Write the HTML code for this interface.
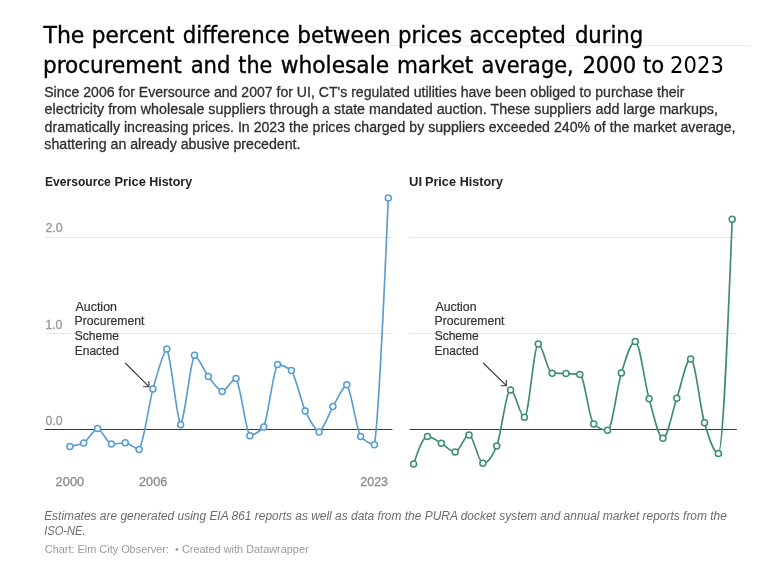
<!DOCTYPE html><html><head><meta charset="utf-8"><title>Chart</title>
<style>html,body{margin:0;padding:0;background:#fff}svg{display:block}text{font-family:"Liberation Sans", sans-serif}</style></head><body>
<svg width="771" height="576" viewBox="0 0 771 576">
<rect width="771" height="576" fill="#fff"/>
<line x1="296" x2="751" y1="45.5" y2="45.5" stroke="#ebebeb" stroke-width="1"/>
<text font-size="23" fill="#000" style='font-family:"DejaVu Sans Condensed", "DejaVu Sans", sans-serif'>
<tspan x="43.45" y="42.80" textLength="40.98" lengthAdjust="spacingAndGlyphs" stroke="#000" stroke-width="0.35">The</tspan>
<tspan x="91.85" y="42.80" textLength="82.69" lengthAdjust="spacingAndGlyphs" stroke="#000" stroke-width="0.35">percent</tspan>
<tspan x="182.71" y="42.80" textLength="106.79" lengthAdjust="spacingAndGlyphs" stroke="#000" stroke-width="0.35">difference</tspan>
<tspan x="297.34" y="42.80" textLength="93.34" lengthAdjust="spacingAndGlyphs" stroke="#000" stroke-width="0.35">between</tspan>
<tspan x="398.06" y="42.80" textLength="63.93" lengthAdjust="spacingAndGlyphs" stroke="#000" stroke-width="0.35">prices</tspan>
<tspan x="469.50" y="42.80" textLength="96.33" lengthAdjust="spacingAndGlyphs" stroke="#000" stroke-width="0.35">accepted</tspan>
<tspan x="574.92" y="42.80" textLength="68.31" lengthAdjust="spacingAndGlyphs" stroke="#000" stroke-width="0.35">during</tspan>
<tspan x="42.94" y="73.00" textLength="138.87" lengthAdjust="spacingAndGlyphs" stroke="#000" stroke-width="0.35">procurement</tspan>
<tspan x="190.67" y="73.00" textLength="39.80" lengthAdjust="spacingAndGlyphs" stroke="#000" stroke-width="0.35">and</tspan>
<tspan x="238.38" y="73.00" textLength="34.00" lengthAdjust="spacingAndGlyphs" stroke="#000" stroke-width="0.35">the</tspan>
<tspan x="280.74" y="73.00" textLength="108.37" lengthAdjust="spacingAndGlyphs" stroke="#000" stroke-width="0.35">wholesale</tspan>
<tspan x="396.96" y="73.00" textLength="76.12" lengthAdjust="spacingAndGlyphs" stroke="#000" stroke-width="0.35">market</tspan>
<tspan x="481.56" y="73.00" textLength="92.05" lengthAdjust="spacingAndGlyphs" stroke="#000" stroke-width="0.35">average,</tspan>
<tspan x="582.41" y="73.00" textLength="53.80" lengthAdjust="spacingAndGlyphs" stroke="#000" stroke-width="0.35">2000</tspan>
<tspan x="643.04" y="73.00" textLength="21.18" lengthAdjust="spacingAndGlyphs" stroke="#000" stroke-width="0.35">to</tspan>
<tspan x="670.14" y="73.00" textLength="53.78" lengthAdjust="spacingAndGlyphs" >2023</tspan>
</text>
<defs><filter id="soft" x="-5%" y="-5%" width="110%" height="110%"><feGaussianBlur stdDeviation="0.4"/></filter></defs>
<g filter="url(#soft)">
<text font-size="14" fill="#2e2e2e">
<tspan x="44.18" y="96.80" textLength="640.28" lengthAdjust="spacingAndGlyphs" stroke="#2e2e2e" stroke-width="0.28">Since 2006 for Eversource and 2007 for UI, CT&#39;s regulated utilities have been obliged to purchase their</tspan>
<tspan x="44.54" y="114.20" textLength="673.46" lengthAdjust="spacingAndGlyphs" stroke="#2e2e2e" stroke-width="0.28">electricity from wholesale suppliers through a state mandated auction. These suppliers add large markups,</tspan>
<tspan x="44.58" y="131.70" textLength="690.91" lengthAdjust="spacingAndGlyphs" stroke="#2e2e2e" stroke-width="0.28">dramatically increasing prices. In 2023 the prices charged by suppliers exceeded 240% of the market average,</tspan>
<tspan x="44.30" y="149.20" textLength="256.20" lengthAdjust="spacingAndGlyphs" stroke="#2e2e2e" stroke-width="0.28">shattering an already abusive precedent.</tspan>
</text>
<text font-size="13" fill="#222" font-weight="bold">
<tspan x="44.98" y="185.60" textLength="65.87" lengthAdjust="spacingAndGlyphs" >Eversource</tspan>
<tspan x="114.45" y="185.60" textLength="31.41" lengthAdjust="spacingAndGlyphs" >Price</tspan>
<tspan x="149.21" y="185.60" textLength="42.94" lengthAdjust="spacingAndGlyphs" >History</tspan>
</text>
<text font-size="13" fill="#222" font-weight="bold">
<tspan x="409.09" y="185.60" textLength="13.04" lengthAdjust="spacingAndGlyphs" >UI</tspan>
<tspan x="424.96" y="185.60" textLength="31.02" lengthAdjust="spacingAndGlyphs" >Price</tspan>
<tspan x="459.71" y="185.60" textLength="43.21" lengthAdjust="spacingAndGlyphs" >History</tspan>
</text>
<line x1="44.7" x2="392.4" y1="237.5" y2="237.5" stroke="#e7e7e7" stroke-width="1"/>
<line x1="44.7" x2="392.4" y1="333.5" y2="333.5" stroke="#e7e7e7" stroke-width="1"/>
<line x1="44.7" x2="392.4" y1="429.5" y2="429.5" stroke="#383838" stroke-width="1.15"/>
<line x1="409.6" x2="736.9" y1="237.5" y2="237.5" stroke="#e7e7e7" stroke-width="1"/>
<line x1="409.6" x2="736.9" y1="333.5" y2="333.5" stroke="#e7e7e7" stroke-width="1"/>
<line x1="409.6" x2="736.9" y1="429.5" y2="429.5" stroke="#383838" stroke-width="1.15"/>
<text x="45.47" y="232.20" font-size="12" fill="#999" textLength="17.23" lengthAdjust="spacingAndGlyphs" stroke="#999" stroke-width="0.3">2.0</text>
<text x="45.23" y="329.00" font-size="12" fill="#999" textLength="17.28" lengthAdjust="spacingAndGlyphs" stroke="#999" stroke-width="0.3">1.0</text>
<text x="45.58" y="424.90" font-size="12" fill="#999" textLength="17.08" lengthAdjust="spacingAndGlyphs" stroke="#999" stroke-width="0.3">0.0</text>
<text font-size="12" fill="#333">
<tspan x="75.57" y="310.60" textLength="41.36" lengthAdjust="spacingAndGlyphs" stroke="#333" stroke-width="0.2">Auction</tspan>
<tspan x="74.62" y="325.37" textLength="69.83" lengthAdjust="spacingAndGlyphs" stroke="#333" stroke-width="0.2">Procurement</tspan>
<tspan x="74.81" y="340.14" textLength="44.14" lengthAdjust="spacingAndGlyphs" stroke="#333" stroke-width="0.2">Scheme</tspan>
<tspan x="74.65" y="354.91" textLength="44.23" lengthAdjust="spacingAndGlyphs" stroke="#333" stroke-width="0.2">Enacted</tspan>
</text>
<text font-size="12" fill="#333">
<tspan x="435.42" y="310.60" textLength="41.21" lengthAdjust="spacingAndGlyphs" stroke="#333" stroke-width="0.2">Auction</tspan>
<tspan x="434.54" y="325.37" textLength="69.89" lengthAdjust="spacingAndGlyphs" stroke="#333" stroke-width="0.2">Procurement</tspan>
<tspan x="434.67" y="340.14" textLength="44.10" lengthAdjust="spacingAndGlyphs" stroke="#333" stroke-width="0.2">Scheme</tspan>
<tspan x="434.58" y="354.91" textLength="44.08" lengthAdjust="spacingAndGlyphs" stroke="#333" stroke-width="0.2">Enacted</tspan>
</text>
<path d="M125.2,363.0L148.9,386.7M148.9,380.9L148.9,386.7L143.1,386.7" fill="none" stroke="#3a3a3a" stroke-width="1.1"/>
<path d="M483.2,363.0L506.4,385.7M506.3,379.9L506.4,385.7L500.6,385.8" fill="none" stroke="#3a3a3a" stroke-width="1.1"/>
<path d="M69.90,446.40C74.51,445.63,79.13,444.87,83.74,443.00C88.36,439.82,92.97,430.10,97.59,428.40C102.20,430.23,106.81,442.27,111.43,444.10C116.04,443.95,120.66,442.95,125.27,442.80C129.89,443.58,134.50,448.72,139.12,449.50C143.73,442.43,148.34,406.86,152.96,388.90C157.57,373.36,162.19,353.65,166.80,349.00C171.42,357.84,176.03,415.96,180.64,424.80C185.26,416.69,189.87,363.41,194.49,355.30C199.10,357.76,203.72,370.02,208.33,376.40C212.94,382.08,217.56,389.74,222.17,391.50C226.79,389.98,231.40,380.02,236.02,378.50C240.63,385.17,245.24,429.03,249.86,435.70C254.47,434.70,259.09,431.83,263.70,427.10C268.32,416.06,272.93,371.71,277.55,364.40C282.16,365.10,286.77,367.10,291.39,370.40C296.00,377.74,300.62,399.58,305.23,411.00C309.85,420.15,314.46,429.64,319.07,432.10C323.69,429.12,328.30,414.71,332.92,406.60C337.53,398.91,342.15,387.25,346.76,384.70C351.37,390.74,355.99,426.86,360.60,436.50C365.22,441.06,369.83,443.83,374.45,444.80C379.06,416.02,383.67,307.06,388.29,198.10" fill="none" stroke="#5a9cd0" stroke-width="1.65" stroke-linejoin="round"/>
<circle cx="69.90" cy="446.40" r="3.0" fill="#f2fafe" stroke="#5a9cd0" stroke-width="1.5"/>
<circle cx="83.74" cy="443.00" r="3.0" fill="#f2fafe" stroke="#5a9cd0" stroke-width="1.5"/>
<circle cx="97.59" cy="428.40" r="3.0" fill="#f2fafe" stroke="#5a9cd0" stroke-width="1.5"/>
<circle cx="111.43" cy="444.10" r="3.0" fill="#f2fafe" stroke="#5a9cd0" stroke-width="1.5"/>
<circle cx="125.27" cy="442.80" r="3.0" fill="#f2fafe" stroke="#5a9cd0" stroke-width="1.5"/>
<circle cx="139.12" cy="449.50" r="3.0" fill="#f2fafe" stroke="#5a9cd0" stroke-width="1.5"/>
<circle cx="152.96" cy="388.90" r="3.0" fill="#f2fafe" stroke="#5a9cd0" stroke-width="1.5"/>
<circle cx="166.80" cy="349.00" r="3.0" fill="#f2fafe" stroke="#5a9cd0" stroke-width="1.5"/>
<circle cx="180.64" cy="424.80" r="3.0" fill="#f2fafe" stroke="#5a9cd0" stroke-width="1.5"/>
<circle cx="194.49" cy="355.30" r="3.0" fill="#f2fafe" stroke="#5a9cd0" stroke-width="1.5"/>
<circle cx="208.33" cy="376.40" r="3.0" fill="#f2fafe" stroke="#5a9cd0" stroke-width="1.5"/>
<circle cx="222.17" cy="391.50" r="3.0" fill="#f2fafe" stroke="#5a9cd0" stroke-width="1.5"/>
<circle cx="236.02" cy="378.50" r="3.0" fill="#f2fafe" stroke="#5a9cd0" stroke-width="1.5"/>
<circle cx="249.86" cy="435.70" r="3.0" fill="#f2fafe" stroke="#5a9cd0" stroke-width="1.5"/>
<circle cx="263.70" cy="427.10" r="3.0" fill="#f2fafe" stroke="#5a9cd0" stroke-width="1.5"/>
<circle cx="277.55" cy="364.40" r="3.0" fill="#f2fafe" stroke="#5a9cd0" stroke-width="1.5"/>
<circle cx="291.39" cy="370.40" r="3.0" fill="#f2fafe" stroke="#5a9cd0" stroke-width="1.5"/>
<circle cx="305.23" cy="411.00" r="3.0" fill="#f2fafe" stroke="#5a9cd0" stroke-width="1.5"/>
<circle cx="319.07" cy="432.10" r="3.0" fill="#f2fafe" stroke="#5a9cd0" stroke-width="1.5"/>
<circle cx="332.92" cy="406.60" r="3.0" fill="#f2fafe" stroke="#5a9cd0" stroke-width="1.5"/>
<circle cx="346.76" cy="384.70" r="3.0" fill="#f2fafe" stroke="#5a9cd0" stroke-width="1.5"/>
<circle cx="360.60" cy="436.50" r="3.0" fill="#f2fafe" stroke="#5a9cd0" stroke-width="1.5"/>
<circle cx="374.45" cy="444.80" r="3.0" fill="#f2fafe" stroke="#5a9cd0" stroke-width="1.5"/>
<circle cx="388.29" cy="198.10" r="3.0" fill="#f2fafe" stroke="#5a9cd0" stroke-width="1.5"/>
<path d="M413.60,464.10C418.22,450.35,422.83,436.60,427.45,436.60C432.07,436.60,436.69,440.75,441.30,443.30C445.92,445.85,450.54,451.90,455.16,451.90C459.77,451.90,464.39,434.90,469.01,434.90C473.63,434.90,478.24,463.30,482.86,463.30C487.48,463.30,492.09,457.50,496.71,445.90C501.33,434.30,505.95,389.90,510.56,389.90C515.18,389.90,519.80,417.20,524.42,417.20C529.03,417.20,533.65,344.10,538.27,344.10C542.89,344.10,547.50,373.00,552.12,373.20C556.74,373.40,561.35,373.30,565.97,373.50C570.59,373.70,575.21,373.80,579.82,374.40C584.44,375.00,589.06,419.80,593.68,424.00C598.29,428.20,602.91,430.30,607.53,430.30C612.15,430.30,616.76,387.80,621.38,373.00C626.00,358.20,630.61,341.50,635.23,341.50C639.85,341.50,644.47,382.62,649.08,398.75C653.70,414.88,658.32,438.30,662.94,438.30C667.55,438.30,672.17,411.43,676.79,398.20C681.41,384.97,686.02,358.90,690.64,358.90C695.26,358.90,699.87,406.95,704.49,422.70C709.11,438.45,713.73,453.40,718.34,453.40C722.96,453.40,727.58,336.30,732.20,219.20" fill="none" stroke="#3f8c70" stroke-width="1.65" stroke-linejoin="round"/>
<circle cx="413.60" cy="464.10" r="3.0" fill="#f0fcf6" stroke="#3f8c70" stroke-width="1.5"/>
<circle cx="427.45" cy="436.60" r="3.0" fill="#f0fcf6" stroke="#3f8c70" stroke-width="1.5"/>
<circle cx="441.30" cy="443.30" r="3.0" fill="#f0fcf6" stroke="#3f8c70" stroke-width="1.5"/>
<circle cx="455.16" cy="451.90" r="3.0" fill="#f0fcf6" stroke="#3f8c70" stroke-width="1.5"/>
<circle cx="469.01" cy="434.90" r="3.0" fill="#f0fcf6" stroke="#3f8c70" stroke-width="1.5"/>
<circle cx="482.86" cy="463.30" r="3.0" fill="#f0fcf6" stroke="#3f8c70" stroke-width="1.5"/>
<circle cx="496.71" cy="445.90" r="3.0" fill="#f0fcf6" stroke="#3f8c70" stroke-width="1.5"/>
<circle cx="510.56" cy="389.90" r="3.0" fill="#f0fcf6" stroke="#3f8c70" stroke-width="1.5"/>
<circle cx="524.42" cy="417.20" r="3.0" fill="#f0fcf6" stroke="#3f8c70" stroke-width="1.5"/>
<circle cx="538.27" cy="344.10" r="3.0" fill="#f0fcf6" stroke="#3f8c70" stroke-width="1.5"/>
<circle cx="552.12" cy="373.20" r="3.0" fill="#f0fcf6" stroke="#3f8c70" stroke-width="1.5"/>
<circle cx="565.97" cy="373.50" r="3.0" fill="#f0fcf6" stroke="#3f8c70" stroke-width="1.5"/>
<circle cx="579.82" cy="374.40" r="3.0" fill="#f0fcf6" stroke="#3f8c70" stroke-width="1.5"/>
<circle cx="593.68" cy="424.00" r="3.0" fill="#f0fcf6" stroke="#3f8c70" stroke-width="1.5"/>
<circle cx="607.53" cy="430.30" r="3.0" fill="#f0fcf6" stroke="#3f8c70" stroke-width="1.5"/>
<circle cx="621.38" cy="373.00" r="3.0" fill="#f0fcf6" stroke="#3f8c70" stroke-width="1.5"/>
<circle cx="635.23" cy="341.50" r="3.0" fill="#f0fcf6" stroke="#3f8c70" stroke-width="1.5"/>
<circle cx="649.08" cy="398.75" r="3.0" fill="#f0fcf6" stroke="#3f8c70" stroke-width="1.5"/>
<circle cx="662.94" cy="438.30" r="3.0" fill="#f0fcf6" stroke="#3f8c70" stroke-width="1.5"/>
<circle cx="676.79" cy="398.20" r="3.0" fill="#f0fcf6" stroke="#3f8c70" stroke-width="1.5"/>
<circle cx="690.64" cy="358.90" r="3.0" fill="#f0fcf6" stroke="#3f8c70" stroke-width="1.5"/>
<circle cx="704.49" cy="422.70" r="3.0" fill="#f0fcf6" stroke="#3f8c70" stroke-width="1.5"/>
<circle cx="718.34" cy="453.40" r="3.0" fill="#f0fcf6" stroke="#3f8c70" stroke-width="1.5"/>
<circle cx="732.20" cy="219.20" r="3.0" fill="#f0fcf6" stroke="#3f8c70" stroke-width="1.5"/>
<text x="55.62" y="486.00" font-size="12" fill="#888" textLength="28.59" lengthAdjust="spacingAndGlyphs" stroke="#888" stroke-width="0.25">2000</text>
<text x="139.08" y="486.00" font-size="12" fill="#888" textLength="28.12" lengthAdjust="spacingAndGlyphs" stroke="#888" stroke-width="0.25">2006</text>
<text x="360.39" y="486.00" font-size="12" fill="#888" textLength="27.63" lengthAdjust="spacingAndGlyphs" stroke="#888" stroke-width="0.25">2023</text>
<text font-size="12" fill="#6c6c6c" font-style="italic">
<tspan x="44.13" y="520.30" textLength="682.75" lengthAdjust="spacingAndGlyphs" >Estimates are generated using EIA 861 reports as well as data from the PURA docket system and annual market reports from the</tspan>
<tspan x="44.31" y="534.70" textLength="41.17" lengthAdjust="spacingAndGlyphs" >ISO-NE.</tspan>
</text>
<text x="44.81" y="553.40" font-size="11.5" fill="#999" textLength="263.79" lengthAdjust="spacingAndGlyphs" xml:space="preserve" >Chart: Elm City Observer:  • Created with Datawrapper</text>
</g>
</svg></body></html>
